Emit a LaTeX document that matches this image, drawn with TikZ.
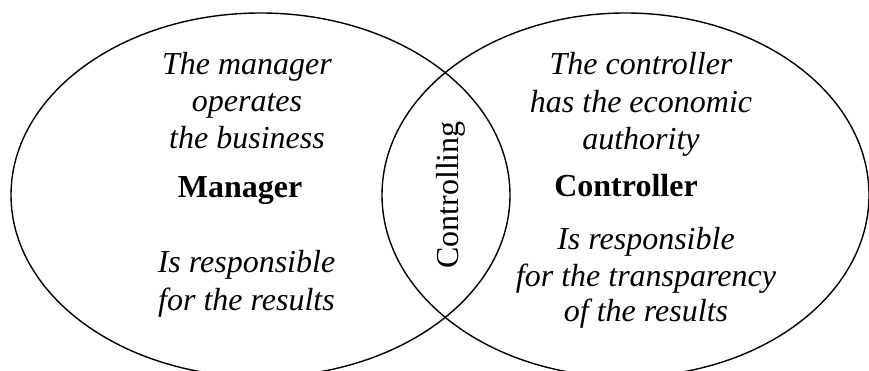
\documentclass[tikz,border=0pt]{standalone}
\usepackage{fontspec}
\setmainfont{Liberation Serif}
\tikzset{
  ring/.style={draw=black, line width=1.4pt},
  txt/.style={inner sep=0pt, anchor=base, align=center, font=\fontsize{32}{36.7}\selectfont\itshape},
  head/.style={inner sep=0pt, anchor=base, font=\fontsize{32}{36.7}\selectfont\bfseries},
  lens/.style={inner sep=0pt, anchor=base, rotate=90, font=\fontsize{32}{36.7}\selectfont}
}
\begin{document}
\begin{tikzpicture}[x=1pt,y=-1pt]
\useasboundingbox (0,0) rectangle (869,371);
\clip (0,0) rectangle (869,371);
\draw[ring] (260.5,195) ellipse [x radius=249.5pt, y radius=182pt];
\draw[ring] (625.5,195) ellipse [x radius=243.5pt, y radius=182pt];
\node[txt] (lt1) at (247,75) {The manager};
\node[txt] (lt2) at (247,111.7) {operates};
\node[txt] (lt3) at (247,148.3) {the business};
\node[head] (mgr) at (240,198) {Manager};
\node[txt] (lb1) at (246.5,272.7) {Is responsible};
\node[txt] (lb2) at (246.5,310) {for the results};
\node[txt] (rt1) at (641,75) {The controller};
\node[txt] (rt2) at (641,112.5) {has the economic};
\node[txt] (rt3) at (641,150) {authority};
\node[head] (ctr) at (626,197) {Controller};
\node[txt] (rb1) at (646,250) {Is responsible};
\node[txt] (rb2) at (646,286.5) {for the transparency};
\node[txt] (rb3) at (646,321) {of the results};
\node[lens] (ctl) at (458,195) {Controlling};
\end{tikzpicture}
\end{document}
